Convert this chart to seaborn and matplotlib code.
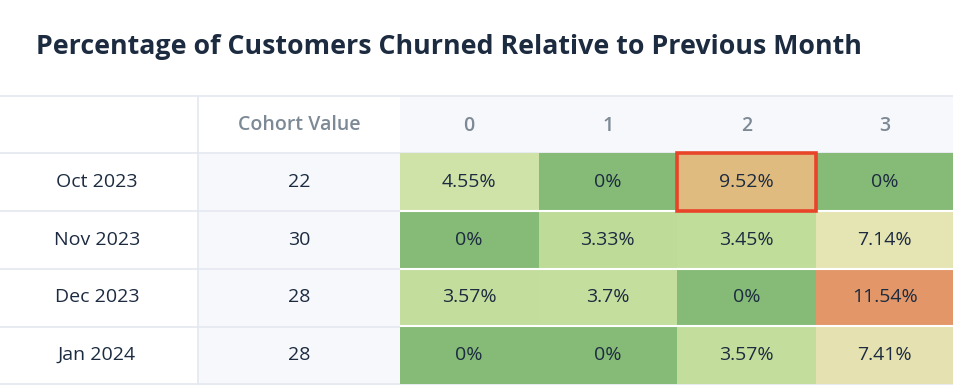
import matplotlib
matplotlib.use("Agg")
import matplotlib.pyplot as plt
import matplotlib.transforms as mtransforms
from matplotlib.colors import LinearSegmentedColormap
from matplotlib.patches import Rectangle
import seaborn as sns
import pandas as pd

# data
cohorts = ["Oct 2023", "Nov 2023", "Dec 2023", "Jan 2024"]
cohort_values = [22, 30, 28, 28]
months = ["0", "1", "2", "3"]
churn_m0 = [4.55, 0, 3.57, 0]
churn_m1 = [0, 3.33, 3.7, 0]
churn_m2 = [9.52, 3.45, 0, 3.57]
churn_m3 = [0, 7.14, 11.54, 7.41]
highlight = ("Oct 2023", "2")

TEXT = "#1c2b40"
GREY = "#7d8a96"
GRID = "#e4e8ef"
SHADE = "#f7f8fc"

df = pd.DataFrame({"0": churn_m0, "1": churn_m1, "2": churn_m2, "3": churn_m3},
                  index=cohorts)
labels = df.map(lambda v: f"{v:g}%")

cmap = LinearSegmentedColormap.from_list(
    "churn",
    [(0.0, "#86bb77"), (0.30, "#c1dd9a"), (0.39, "#cfe3a8"),
     (0.63, "#e6e4b4"), (0.82, "#e0bd80"), (1.0, "#e39769")])

sns.set_theme(style="white")
plt.rcParams["font.family"] = ["Open Sans", "DejaVu Sans"]

W, H = 954, 385
fig = plt.figure(figsize=(W / 100, H / 100), dpi=100)
fig.patch.set_facecolor("white")

# background layer in pixel units for the table frame
bg = fig.add_axes([0, 0, 1, 1])
bg.set_xlim(0, W)
bg.set_ylim(H, 0)
bg.axis("off")
bg.add_patch(Rectangle((198, 153), 202, H - 153, color=SHADE, lw=0))
bg.add_patch(Rectangle((400, 96), W - 400, 57, color=SHADE, lw=0))
for y in [96, 153, 211, 269, 327, 384]:
    bg.axhline(y, color=GRID, lw=1.2)
bg.plot([198, 198], [96, H], color=GRID, lw=1.2)

# heatmap of churn percentages
ax = fig.add_axes([400 / W, 1 / H, (W - 400) / W, (H - 153 - 1) / H])
sns.heatmap(df, ax=ax, cmap=cmap, vmin=0, vmax=max(churn_m3), cbar=False,
            annot=labels, fmt="",
            annot_kws={"color": TEXT, "fontsize": 14})
for i in range(1, len(cohorts)):
    ax.axhline(i, color="white", lw=1.5)
ax.xaxis.tick_top()
ax.tick_params(axis="x", length=0, pad=12, labelsize=14, labelcolor=GREY)
ax.tick_params(axis="y", length=0, left=False, labelleft=False)
for t in ax.get_xticklabels():
    t.set_fontweight("semibold")
ax.set_xlabel("")
ax.set_ylabel("")

r = cohorts.index(highlight[0])
c = months.index(highlight[1])
ax.add_patch(Rectangle((c, r), 1, 1, fill=False, edgecolor="#e8442a",
                       lw=2.6, clip_on=False, zorder=5))

# row labels and cohort sizes aligned with heatmap rows
trans = mtransforms.blended_transform_factory(fig.transFigure, ax.transData)
for i, (name, n) in enumerate(zip(cohorts, cohort_values)):
    ax.text(97 / W, i + 0.5, name, transform=trans, ha="center", va="center",
            fontsize=14, color=TEXT, clip_on=False)
    ax.text(299 / W, i + 0.5, str(n), transform=trans, ha="center",
            va="center", fontsize=14, color=TEXT, clip_on=False)
fig.text(299 / W, 1 - 125 / H, "Cohort Value", ha="center", va="center",
         fontsize=14, color=GREY, fontweight="semibold")

fig.text(36 / W, 1 - 47 / H,
         "Percentage of Customers Churned Relative to Previous Month",
         ha="left", va="center", fontsize=19.3, color=TEXT,
         fontweight="bold")

fig.savefig("out.png", dpi=100, facecolor="white")
